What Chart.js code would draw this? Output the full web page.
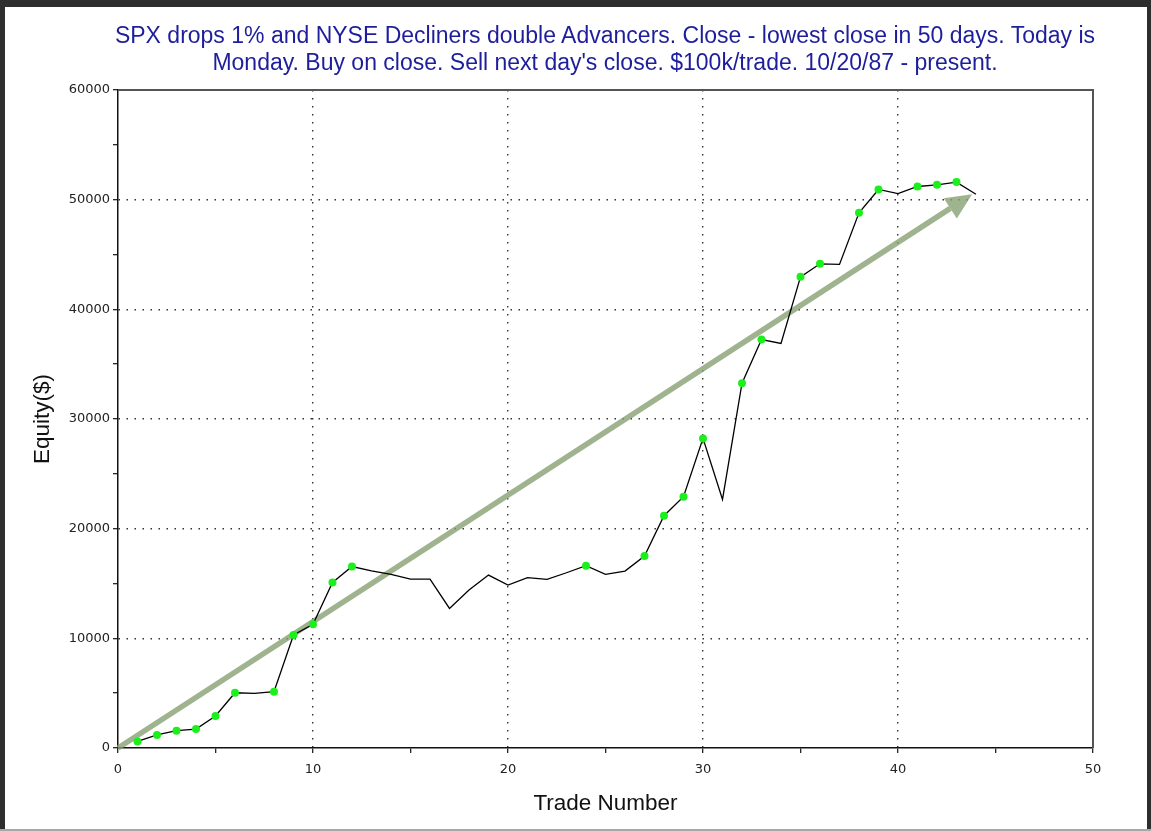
<!DOCTYPE html>
<html>
<head>
<meta charset="utf-8">
<script src="https://cdn.jsdelivr.net/npm/chart.js@4.4.1/dist/chart.umd.min.js"></script>
<style>
  html, body { margin: 0; padding: 0; background: #ffffff; }
  #wrap { position: relative; width: 1151px; height: 831px; overflow: hidden; background: #fff; }
  #c { position: absolute; left: 0; top: 0; }
  .bar { position: absolute; }
  #title {
    position: absolute; left: 55px; width: 1100px; top: 22px;
    text-align: center; font-family: "Liberation Sans", Arial, sans-serif;
    font-size: 23px; line-height: 27px; color: #1e1e9c;
  }
</style>
</head>
<body>
<div id="wrap">
  <canvas id="c" width="1151" height="831"></canvas>
  <div id="title">SPX drops 1% and NYSE Decliners double Advancers. Close - lowest close in 50 days. Today is<br>Monday. Buy on close. Sell next day's close. $100k/trade. 10/20/87 - present.</div>
  <div class="bar" style="left:0;top:0;width:1151px;height:7px;background:#2e2e2e"></div>
  <div class="bar" style="left:0;top:0;width:5px;height:831px;background:#2e2e2e"></div>
  <div class="bar" style="left:1147px;top:0;width:4px;height:831px;background:#2e2e2e"></div>
  <div class="bar" style="left:0;top:829px;width:1151px;height:2px;background:#a8a8a8"></div>
</div>
<script>
// ---- data ----
const trades = [1,2,3,4,5,6,7,8,9,10,11,12,13,14,15,16,17,18,19,20,21,22,23,24,25,26,27,28,29,30,31,32,33,34,35,36,37,38,39,40,41,42,43,44];
const equity = [600,1190,1580,1730,2920,5040,4990,5130,10300,11280,15100,16550,16160,15830,15400,15400,12730,14400,15770,14860,15530,15380,15980,16620,15830,16130,17500,21180,22910,28230,22670,33270,37250,36890,42960,44150,44100,48800,50930,50560,51200,51350,51600,50500];
const arrowFrom = [0, 0];
const arrowTo = [43.8, 50500];
const xTickLabels = [0, 10, 20, 30, 40, 50];
const yTickLabels = [0, 10000, 20000, 30000, 40000, 50000, 60000];

const points = trades.map((t, i) => ({ x: t, y: equity[i] }));
// a dot marks each new equity high
const isHigh = equity.map((v, i) => i === 0 || v > Math.max(...equity.slice(0, i)));

const tickFont = { family: "'DejaVu Sans', Verdana, sans-serif", size: 13 };
const titleFont = { family: "'Liberation Sans', Arial, sans-serif", size: 22.5 };

const arrowPlugin = {
  id: 'arrow',
  beforeDatasetsDraw(chart) {
    const { ctx, scales: { x, y } } = chart;
    const x0 = x.getPixelForValue(arrowFrom[0]), y0 = y.getPixelForValue(arrowFrom[1]);
    const x1 = x.getPixelForValue(arrowTo[0]), y1 = y.getPixelForValue(arrowTo[1]);
    const ang = Math.atan2(y1 - y0, x1 - x0);
    const headLen = 26, headW = 12;
    const bx = x1 - headLen * Math.cos(ang), by = y1 - headLen * Math.sin(ang);
    ctx.save();
    ctx.strokeStyle = 'rgba(135,160,115,0.8)';
    ctx.fillStyle = 'rgba(135,160,115,0.8)';
    ctx.lineWidth = 5.5;
    ctx.lineCap = 'butt';
    ctx.beginPath();
    ctx.moveTo(x0, y0);
    ctx.lineTo(bx, by);
    ctx.stroke();
    ctx.beginPath();
    ctx.moveTo(x1, y1);
    ctx.lineTo(bx + headW * Math.sin(ang), by - headW * Math.cos(ang));
    ctx.lineTo(bx - headW * Math.sin(ang), by + headW * Math.cos(ang));
    ctx.closePath();
    ctx.fill();
    ctx.restore();
  }
};

const boxPlugin = {
  id: 'box',
  afterDraw(chart) {
    const { ctx, chartArea: a } = chart;
    ctx.save();
    ctx.strokeStyle = '#555';
    ctx.lineWidth = 2;
    ctx.beginPath();
    ctx.moveTo(a.left, a.top);
    ctx.lineTo(a.right, a.top);
    ctx.lineTo(a.right, a.bottom);
    ctx.stroke();
    ctx.restore();
  }
};

new Chart(document.getElementById('c'), {
  type: 'scatter',
  data: {
    datasets: [{
      data: points,
      showLine: true,
      borderColor: '#000',
      borderWidth: 1.3,
      pointRadius: ctx => isHigh[ctx.dataIndex] ? 4 : 0,
      pointBackgroundColor: '#1cf01c',
      pointBorderWidth: 0,
      pointHoverRadius: 0,
      tension: 0
    }]
  },
  plugins: [arrowPlugin, boxPlugin],
  options: {
    responsive: false,
    animation: false,
    events: [],
    layout: { padding: { left: 0, right: 58, top: 90, bottom: 0 } },
    plugins: { legend: { display: false }, tooltip: { enabled: false }, title: { display: false } },
    scales: {
      x: {
        type: 'linear', min: 0, max: 50,
        afterFit: s => { s.height = 83; },
        afterBuildTicks: s => { s.ticks = [0,5,10,15,20,25,30,35,40,45,50].map(v => ({ value: v })); },
        ticks: {
          font: tickFont, color: '#222', padding: 9, maxRotation: 0,
          callback: v => xTickLabels.includes(v) ? String(v) : ''
        },
        grid: {
          color: c => (c.tick && c.tick.value % 10 === 0 && c.tick.value > 0 && c.tick.value < 50) ? '#333' : 'rgba(0,0,0,0)',
          lineWidth: 1.4,
          tickColor: '#111', tickLength: 5, tickWidth: 1.2, tickBorderDash: []
        },
        border: { display: true, color: '#111', width: 1.5, dash: [1.5, 6.5] },
        title: { display: true, text: 'Trade Number', font: titleFont, color: '#111', padding: { top: 0, bottom: 14 } }
      },
      y: {
        type: 'linear', min: 0, max: 60000,
        afterFit: s => { s.width = 118; },
        afterBuildTicks: s => { const t = []; for (let v = 0; v <= 60000; v += 5000) t.push({ value: v }); s.ticks = t; },
        ticks: {
          font: tickFont, color: '#222', padding: 3,
          callback: v => yTickLabels.includes(v) ? String(v) : ''
        },
        grid: {
          color: c => (c.tick && c.tick.value % 10000 === 0 && c.tick.value > 0 && c.tick.value < 60000) ? '#333' : 'rgba(0,0,0,0)',
          lineWidth: 1.4,
          tickColor: '#111', tickLength: 5, tickWidth: 1.2, tickBorderDash: []
        },
        border: { display: true, color: '#111', width: 1.5, dash: [1.5, 6.5] },
        title: { display: true, text: 'Equity($)', font: titleFont, color: '#111', padding: { top: 29, bottom: 0 } }
      }
    }
  }
});
</script>
</body>
</html>
